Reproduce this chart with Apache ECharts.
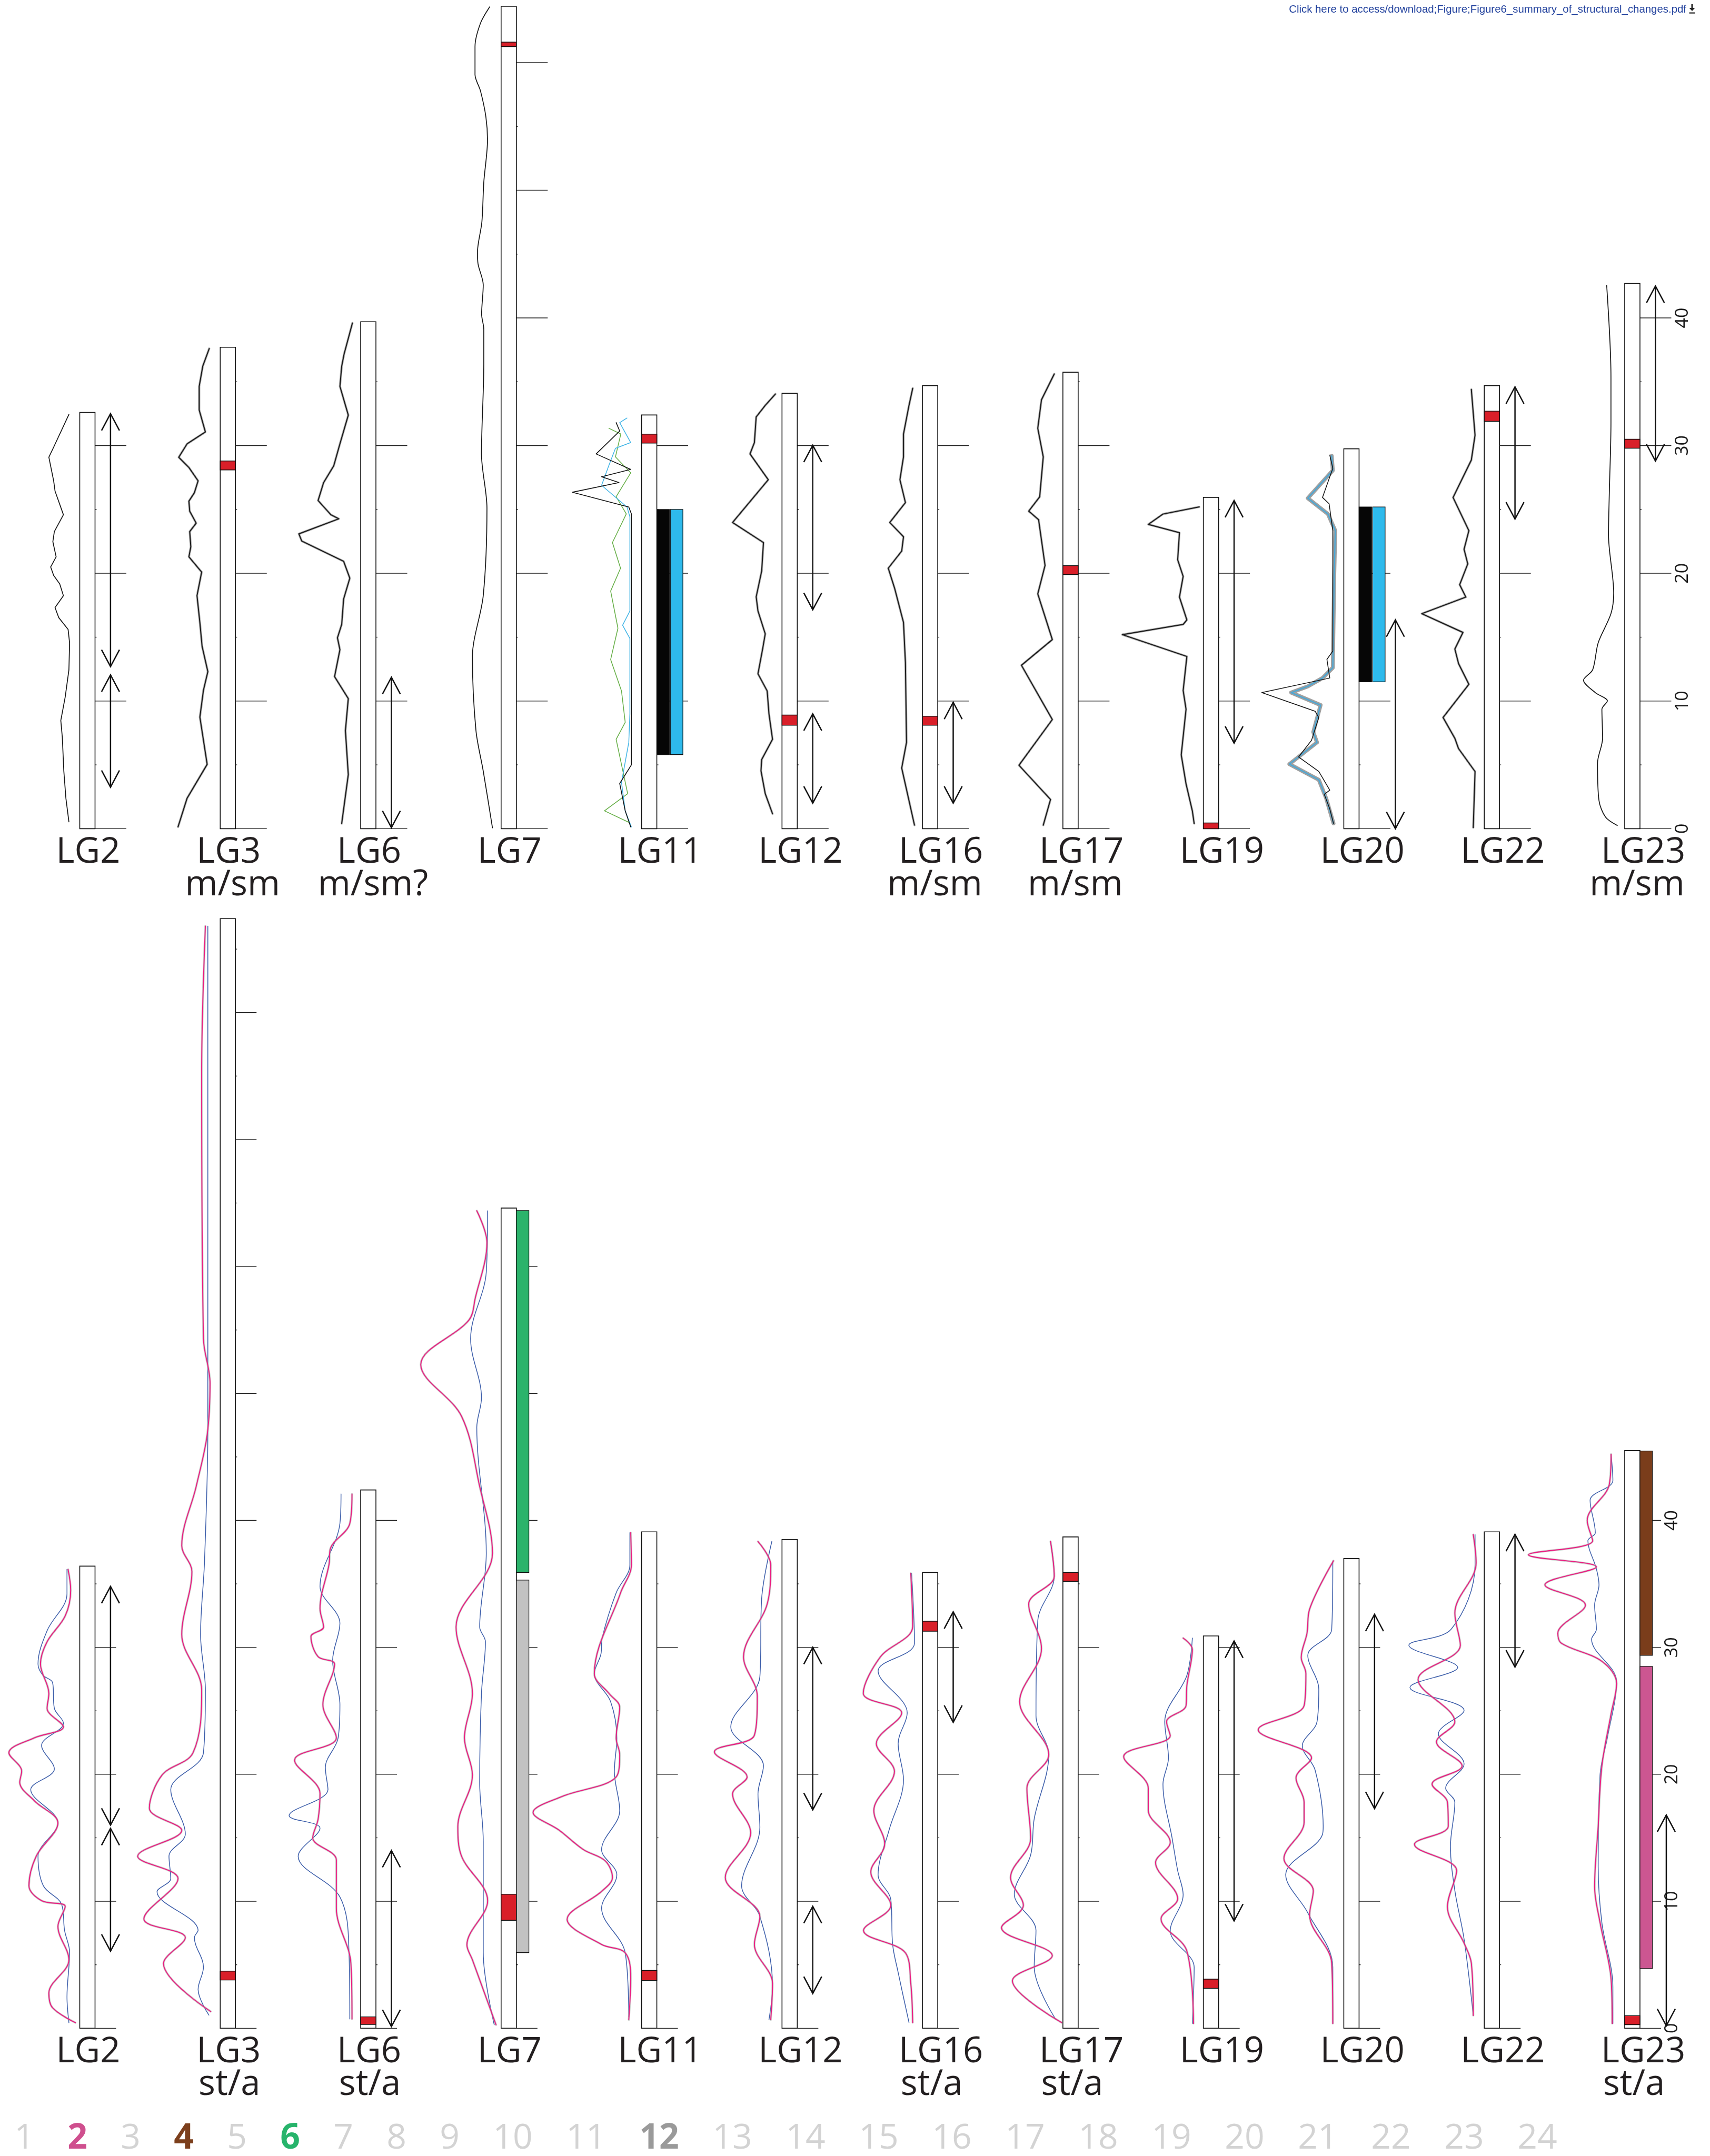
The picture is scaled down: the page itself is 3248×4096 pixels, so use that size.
<!DOCTYPE html>
<html>
<head>
<meta charset="utf-8">
<script src="https://cdn.jsdelivr.net/npm/echarts@6/dist/echarts.min.js"></script>
<style>
  html, body { margin: 0; padding: 0; background: #ffffff; }
  #chart { width: 3248px; height: 4096px; }
</style>
</head>
<body>
<div id="chart"></div>
<script>
// ---------------------------------------------------------------------------
// Linkage groups, lengths (Mb) and karyotype labels
// ---------------------------------------------------------------------------
const chromosomes = ['LG2', 'LG3', 'LG6', 'LG7', 'LG11', 'LG12', 'LG16', 'LG17', 'LG19', 'LG20', 'LG22', 'LG23'];
const topLengths    = [32.6, 37.7, 39.7, 64.4, 32.4, 34.1, 34.7, 35.75, 25.95, 29.75, 34.7, 42.7];
const bottomLengths = [36.4, 87.4, 42.4, 64.6, 39.1, 38.5, 35.9, 38.7, 30.9, 37.0, 39.1, 45.5];
const topSubLabels    = ['', 'm/sm', 'm/sm?', '', '', '', 'm/sm', 'm/sm', '', '', '', 'm/sm'];
const bottomSubLabels = ['', 'st/a', 'st/a', '', '', '', 'st/a', 'st/a', '', '', '', 'st/a'];

// scale printed beside the last linkage group
const scaleChromosome = 'LG23';
const scaleTickLabels = ['0', '10', '20', '30', '40'];

// centromere positions [from, to]
const topCentromeres = {
  LG3: [28.1, 28.8], LG7: [61.25, 61.6], LG11: [30.2, 30.9], LG12: [8.1, 8.9],
  LG16: [8.1, 8.8], LG17: [19.9, 20.6], LG19: [0, 0.45], LG22: [31.9, 32.7], LG23: [29.8, 30.5]
};
const bottomCentromeres = {
  LG3: [3.8, 4.5], LG6: [0.3, 0.9], LG7: [8.5, 10.55], LG11: [3.76, 4.55],
  LG16: [31.27, 32.06], LG17: [35.2, 35.9], LG19: [3.14, 3.87], LG23: [0.28, 0.99]
};

// rearranged regions [from, to]
const topArrows = {
  LG2: [[12.7, 32.5], [3.25, 12.05]], LG6: [[0.08, 11.86]], LG12: [[17.15, 30.03], [2.0, 9.0]],
  LG16: [[2.0, 9.9]], LG19: [[6.7, 25.7]], LG20: [[0, 16.35]], LG22: [[24.25, 34.6]], LG23: [[28.8, 42.5]]
};
const bottomArrows = {
  LG2: [[16.0, 34.8], [6.07, 15.74]], LG6: [[0.13, 14.0]], LG12: [[17.2, 30.0], [2.74, 9.6]],
  LG16: [[24.1, 32.8]], LG19: [[8.46, 30.5]], LG20: [[17.3, 32.6]], LG22: [[28.45, 38.9]], LG23: [[0.2, 16.8]]
};

// blocks [kind, from, to]
const topBlocks = {
  LG11: [['A', 5.8, 25.0], ['B', 5.8, 25.0]],
  LG20: [['A', 11.5, 25.2], ['B', 11.5, 25.2]]
};
const bottomBlocks = {
  LG7: [['6', 35.9, 64.4], ['12', 5.96, 35.3]],
  LG23: [['4', 29.37, 45.47], ['2', 4.7, 28.5]]
};

// homologous chromosome numbers
const legendNumbers = [1, 2, 3, 4, 5, 6, 7, 8, 9, 10, 11, 12, 13, 14, 15, 16, 17, 18, 19, 20, 21, 22, 23, 24];
const legendHighlighted = [2, 4, 6, 12];

// ---------------------------------------------------------------------------
// Profiles along each linkage group: [value, position (Mb)]
// ---------------------------------------------------------------------------
const topLG2 = [[0.79,32.44],[1.90,29.88],[2.25,29.09],[1.90,27.24],[1.80,26.44],[1.19,24.59],[1.85,23.27],[1.96,22.48],[1.72,21.29],[2.12,20.50],[1.90,19.83],[1.46,19.17],[1.19,18.25],[1.80,17.32],[1.53,16.53],[0.85,15.61],[0.74,14.55],[0.79,12.44],[1.06,10.32],[1.38,8.47],[1.27,7.15],[1.16,4.51],[1.01,2.39],[0.79,0.54]];
const topLG3 = [[0.8,37.6],[1.27,36.22],[1.53,34.64],[1.53,32.79],[1.08,31.07],[2.41,30.14],[3.02,29.09],[2.28,28.29],[1.61,27.24],[1.88,26.31],[2.28,25.65],[2.22,24.86],[1.75,23.93],[2.22,23.27],[2.14,22.08],[2.28,21.29],[1.35,20.10],[1.69,18.25],[1.48,16.14],[1.32,14.29],[0.90,12.30],[1.22,10.85],[1.48,8.74],[0.95,5.04],[2.41,2.39],[3.07,0.15]];
const topLG6 = [[0.6,39.6],[1.2,37.2],[1.38,36.22],[1.51,34.64],[0.90,32.39],[1.51,30.14],[1.96,28.42],[2.70,27.10],[3.10,25.70],[2.17,24.59],[1.59,24.27],[4.50,23.09],[4.29,22.53],[1.24,20.94],[0.79,19.62],[1.24,17.99],[1.38,16.00],[1.69,14.95],[1.51,14.02],[1.90,11.91],[0.90,10.19],[1.11,7.68],[0.90,4.24],[1.38,0.41]];
const topLG7 = [[0.83,64.36],[1.50,63.08],[1.90,61.25],[1.90,59.05],[1.50,57.77],[1.11,55.76],[0.99,53.93],[1.26,50.63],[1.40,47.52],[1.72,45.14],[1.68,44.23],[1.30,42.58],[1.42,40.30],[1.26,39.11],[1.26,36.37],[1.43,29.35],[1.03,25.12],[1.30,18.25],[2.09,13.49],[1.83,7.68],[1.30,4.51],[0.63,0.07]];
const topLG11Black = [[1.85,31.8],[1.59,31.14],[3.31,29.35],[0.79,28.14],[2.91,27.56],[1.64,27.11],[5.03,26.35],[0.93,25.19],[0.74,24.65],[0.74,20.18],[0.74,9.0],[0.74,5.0],[1.59,3.54],[1.19,1.4],[0.79,0.14]];
const topLG11Blue = [[1.06,32.16],[1.59,31.8],[0.79,30.24],[1.90,29.79],[2.38,28.45],[2.91,26.89],[1.06,25.19],[0.85,24.43],[0.85,17.05],[1.38,15.93],[0.85,14.9],[0.85,9.0],[0.93,6.76],[1.46,3.63],[1.19,1.4],[0.74,0.14]];
const topLG11Green = [[2.38,31.36],[1.51,30.91],[1.90,29.12],[0.79,27.87],[1.85,26.0],[1.11,24.65],[2.12,22.41],[1.53,20.40],[2.25,18.61],[1.72,15.70],[2.25,13.25],[1.46,10.79],[1.19,8.33],[1.85,7.0],[1.01,2.74],[2.70,1.40],[0.93,0.50]];
const topLG12 = [[0.48,34.04],[1.22,33.15],[1.88,32.25],[2.01,30.24],[2.33,29.35],[1.0,27.33],[3.6,23.98],[1.35,22.41],[1.48,20.18],[1.88,18.16],[1.75,17.05],[1.22,15.26],[1.40,14.14],[1.75,12.13],[1.08,10.79],[0.95,9.0],[0.69,7.0],[1.48,5.42],[1.53,4.53],[1.22,2.74],[0.69,1.17]];
const topLG16 = [[0.71,34.49],[0.98,33.15],[1.38,30.91],[1.38,29.12],[1.64,27.33],[1.24,25.54],[2.38,23.98],[1.38,22.86],[1.51,21.74],[2.49,20.40],[2.03,18.84],[1.38,16.15],[1.24,13.02],[1.16,6.76],[1.51,4.75],[0.58,0.28]];
const topLG17 = [[0.63,35.61],[1.56,33.59],[1.83,31.36],[1.43,29.12],[1.69,25.99],[2.49,24.87],[1.77,24.20],[1.30,20.62],[1.83,18.39],[0.77,14.81],[3.02,12.80],[0.77,8.55],[3.20,4.97],[0.90,2.29],[1.43,0.28]];
const topLG19 = [[0.3,25.2],[2.94,24.64],[4.01,23.83],[1.74,23.18],[1.87,21.06],[1.47,19.76],[1.74,18.14],[1.20,16.35],[1.47,16.0],[5.9,15.2],[1.20,13.49],[1.47,10.82],[1.26,9.36],[1.61,5.78],[1.26,3.51],[0.80,1.39],[0.67,0.41]];
const topLG20Black = [[1.02,29.26],[0.80,28.22],[1.55,25.94],[1.07,25.45],[0.80,23.34],[0.80,13.91],[1.23,13.26],[1.02,11.80],[5.97,10.66],[2.09,9.20],[1.82,8.71],[2.35,6.92],[3.29,5.62],[1.82,4.48],[1.02,3.02],[1.42,2.69],[1.02,1.55],[0.75,0.42]];
const topLG20Blue = [[0.88,29.19],[0.80,28.06],[2.62,25.88],[1.15,24.64],[0.62,23.34],[0.70,19.77],[0.80,12.61],[1.55,11.80],[2.62,11.15],[3.83,10.66],[1.69,9.68],[2.22,7.57],[1.95,6.76],[3.96,5.06],[1.82,3.83],[1.28,2.37],[0.75,0.42]];
const topLG22 = [[0.94,34.4],[0.67,30.82],[0.94,28.87],[2.27,25.94],[1.12,23.34],[1.47,21.88],[1.20,20.74],[1.79,19.11],[1.34,18.14],[4.55,16.84],[1.55,15.37],[2.14,14.07],[1.87,12.93],[1.12,11.31],[3.0,8.71],[2.14,7.08],[1.87,6.27],[0.67,4.48],[0.80,0.09]];
const topLG23 = [[1.31,42.53],[1.0,35.37],[1.0,31.8],[1.12,26.27],[1.18,23.02],[0.80,18.46],[1.0,16.84],[1.93,14.56],[2.33,12.45],[3.0,11.63],[2.14,10.66],[1.26,10.01],[1.66,9.36],[1.61,7.08],[1.98,5.13],[1.87,2.20],[1.39,0.90],[0.54,0.25]];

const bottomLG2Pink = [[0.85,36.14],[0.66,34.51],[1.06,32.48],[2.38,30.44],[2.86,28.69],[2.25,26.36],[2.38,25.20],[1.19,23.74],[3.31,22.87],[5.16,21.70],[4.23,20.25],[4.37,19.37],[3.31,17.92],[1.59,16.17],[3.17,13.55],[3.70,11.22],[2.78,10.05],[1.06,9.59],[1.59,8.02],[0.79,5.39],[2.25,2.77],[1.98,1.61],[0.32,0.44]];
const bottomLG2Blue = [[0.93,36.14],[0.93,34.22],[2.38,31.31],[3.04,28.69],[2.70,27.82],[1.98,27.23],[1.85,25.20],[1.19,24.03],[2.78,22.28],[1.85,20.42],[3.57,18.79],[1.59,16.17],[3.04,13.55],[2.65,11.22],[1.32,9.76],[1.11,7.73],[0.74,5.98],[0.93,2.48],[0.79,0.44]];
const bottomLG3Pink = [[1.08,86.81],[1.35,75.28],[1.22,54.31],[0.74,50.82],[0.95,46.74],[1.75,42.67],[2.80,38.01],[2.06,35.97],[2.80,31.02],[1.35,26.65],[1.98,21.70],[4.23,19.95],[5.16,17.33],[2.80,15.58],[6.01,13.55],[3.07,11.80],[5.56,8.60],[2.54,7.14],[4.13,5.10],[0.69,1.32]];
const bottomLG3Blue = [[0.90,86.81],[0.90,65.96],[0.90,47.33],[1.14,36.84],[1.43,31.02],[1.08,26.65],[1.22,21.70],[3.60,18.79],[2.54,15.29],[3.73,13.55],[3.60,11.80],[4.60,10.75],[1.61,7.72],[1.88,7.14],[1.22,4.81],[1.61,3.06],[0.82,1.03]];
const bottomLG6Pink = [[0.63,42.08],[0.79,39.76],[2.22,37.72],[2.30,36.55],[2.96,33.06],[2.70,31.60],[3.62,30.85],[3.10,29.27],[1.90,28.69],[2.75,25.49],[1.77,22.87],[4.81,21.12],[2.96,18.50],[3.10,16.46],[3.49,15.0],[1.77,13.25],[1.77,9.47],[0.71,5.10],[0.63,0.73]];
const bottomLG6Blue = [[1.43,42.08],[1.51,39.76],[2.96,34.81],[1.51,31.89],[2.04,28.98],[1.51,25.49],[1.64,22.87],[2.57,20.54],[2.38,18.79],[5.21,16.75],[2.96,15.76],[4.55,13.55],[1.51,10.34],[0.85,5.97],[0.79,0.73]];
const bottomLG7Pink = [[1.77,64.39],[1.03,61.89],[1.88,57.52],[2.35,55.77],[5.85,52.27],[2.88,48.20],[1.56,42.67],[0.63,37.42],[3.28,31.60],[2.09,26.36],[2.67,22.87],[2.09,19.95],[3.15,15.88],[2.88,13.55],[0.98,10.05],[2.49,6.56],[2.09,5.39],[0.37,0.27]];
const bottomLG7Blue = [[0.98,64.39],[1.08,59.56],[2.22,54.31],[1.43,49.66],[1.77,47.33],[1.08,37.42],[1.56,31.60],[1.14,30.44],[1.43,26.36],[1.56,19.37],[1.30,14.71],[1.30,9.47],[1.30,5.97],[0.50,0.27]];
const bottomLG11Pink = [[0.79,39.04],[0.74,36.49],[1.53,34.29],[3.44,27.92],[2.38,26.38],[1.59,25.28],[1.85,22.86],[1.59,21.55],[1.85,19.79],[5.8,18.25],[7.9,17.0],[6.0,15.6],[4.23,14.07],[2.65,13.19],[2.12,11.87],[2.91,10.78],[5.42,8.58],[2.91,6.60],[1.19,5.94],[0.79,3.96],[0.93,0.67]];
const bottomLG11Blue = [[0.85,39.04],[0.85,36.49],[1.85,34.29],[2.86,30.78],[2.96,29.46],[3.44,27.92],[2.25,25.72],[1.80,22.86],[1.98,20.23],[1.59,17.15],[2.91,14.07],[1.80,12.09],[2.91,9.46],[1.19,5.94],[0.93,0.89]];
const bottomLG12Pink = [[1.75,38.34],[0.82,36.49],[1.08,33.41],[2.80,29.24],[1.80,26.16],[2.01,23.08],[4.92,21.77],[2.54,19.79],[3.60,18.46],[2.28,15.39],[4.13,11.87],[1.61,8.80],[2.01,6.60],[0.69,3.52],[0.82,0.67]];
const bottomLG12Blue = [[0.74,38.34],[1.48,33.85],[1.61,27.70],[3.73,23.74],[1.35,20.67],[1.75,18.46],[1.61,15.83],[2.94,11.22],[1.61,8.80],[0.69,3.30],[0.95,0.67]];
const bottomLG16Pink = [[0.85,35.83],[0.71,31.66],[3.07,29.24],[4.31,26.38],[1.51,24.84],[3.36,22.42],[2.04,20.23],[3.54,17.15],[2.75,14.51],[3.76,12.31],[2.30,9.68],[4.29,7.70],[1.24,5.94],[0.85,3.52],[0.71,0.45]];
const bottomLG16Blue = [[0.79,35.83],[0.58,30.34],[3.23,28.14],[1.11,24.84],[1.77,22.42],[1.38,19.57],[2.43,15.61],[3.23,12.09],[2.30,10.12],[2.17,6.60],[1.77,4.40],[0.98,0.45]];
const bottomLG17Pink = [[0.90,38.34],[0.63,35.61],[2.49,33.41],[1.56,29.90],[3.15,25.72],[1.03,21.55],[2.62,18.91],[2.35,14.95],[3.81,11.87],[2.88,9.68],[4.47,7.92],[0.77,5.72],[3.68,3.74],[0.10,0.45]];
const bottomLG17Blue = [[0.90,38.34],[0.63,35.61],[1.83,32.09],[1.96,24.62],[1.03,21.55],[2.09,16.49],[2.35,13.63],[3.54,10.56],[1.96,7.70],[2.09,4.84],[0.50,0.67]];
const bottomLG19Pink = [[1.47,30.73],[0.80,29.85],[1.20,26.99],[1.26,25.41],[2.68,24.14],[2.41,23.03],[5.8,21.4],[4.01,18.91],[4.01,17.17],[2.41,14.64],[3.48,13.05],[1.87,10.20],[3.08,8.62],[1.20,6.08],[0.72,0.38]];
const bottomLG19Blue = [[0.80,30.73],[1.20,27.79],[2.81,24.14],[2.54,21.29],[2.94,19.23],[2.27,14.95],[1.87,12.42],[1.47,10.52],[2.41,7.67],[0.67,4.81],[0.80,0.38]];
const bottomLG20Pink = [[0.75,36.82],[2.49,33.01],[2.68,31.11],[3.10,29.21],[2.76,27.94],[2.89,25.41],[6.23,23.51],[2.35,21.29],[3.48,19.71],[2.89,17.81],[2.89,16.22],[4.36,13.37],[2.22,10.83],[2.49,8.93],[0.88,5.13],[0.80,0.38]];
const bottomLG20Blue = [[0.80,36.82],[0.88,31.43],[2.62,29.37],[1.82,26.68],[1.95,24.14],[3.02,22.24],[2.09,20.34],[1.50,15.91],[1.55,15.27],[4.23,12.10],[2.62,9.09],[0.80,4.81],[0.80,0.38]];
const bottomLG22Pink = [[0.80,38.88],[0.59,36.66],[2.14,32.70],[1.74,30.16],[4.82,27.47],[2.14,24.14],[3.48,22.56],[1.61,20.66],[3.80,19.23],[2.68,17.80],[2.62,15.91],[5.08,14.48],[2.01,12.42],[2.68,9.57],[1.47,6.71],[0.94,5.13],[0.80,1.01]];
const bottomLG22Blue = [[0.67,38.88],[0.67,36.50],[2.41,31.43],[5.49,30.16],[1.93,28.42],[5.41,26.84],[1.47,25.03],[3.34,23.19],[1.47,20.82],[2.81,18.91],[2.14,17.80],[2.46,14.32],[2.14,10.84],[1.47,7.03],[0.80,1.01]];
const bottomLG23Pink = [[0.99,45.21],[1.12,42.84],[2.73,39.99],[2.33,38.40],[7.01,37.29],[2.06,36.34],[5.81,34.92],[2.86,33.33],[4.87,31.11],[4.60,30.32],[1.66,28.90],[0.59,27.15],[0.99,24.77],[1.66,20.66],[1.93,15.91],[2.19,11.15],[1.79,8.30],[0.99,3.86],[0.91,0.38]];
const bottomLG23Blue = [[0.99,45.21],[0.86,43.15],[2.52,41.57],[2.14,39.03],[2.68,38.40],[2.06,36.18],[1.87,34.92],[2.19,33.33],[2.06,31.43],[2.41,30.64],[0.59,27.31],[1.26,22.88],[1.79,20.02],[1.93,12.73],[1.66,8.30],[0.86,3.23],[0.86,0.38]];

// which profiles belong to which linkage group, with their line style
const topProfiles = {
  LG2: [['thin', topLG2]], LG3: [['dark', topLG3]], LG6: [['dark', topLG6]], LG7: [['thinSmooth', topLG7]],
  LG11: [['lg11Green', topLG11Green], ['lg11Blue', topLG11Blue], ['lg11Black', topLG11Black]],
  LG12: [['dark', topLG12]], LG16: [['dark', topLG16]], LG17: [['dark', topLG17]], LG19: [['dark', topLG19]],
  LG20: [['lg20Blue', topLG20Blue], ['lg20Black', topLG20Black]],
  LG22: [['dark', topLG22]], LG23: [['thinSmooth', topLG23]]
};
const bottomProfiles = {
  LG2: [bottomLG2Blue, bottomLG2Pink], LG3: [bottomLG3Blue, bottomLG3Pink], LG6: [bottomLG6Blue, bottomLG6Pink],
  LG7: [bottomLG7Blue, bottomLG7Pink], LG11: [bottomLG11Blue, bottomLG11Pink], LG12: [bottomLG12Blue, bottomLG12Pink],
  LG16: [bottomLG16Blue, bottomLG16Pink], LG17: [bottomLG17Blue, bottomLG17Pink], LG19: [bottomLG19Blue, bottomLG19Pink],
  LG20: [bottomLG20Blue, bottomLG20Pink], LG22: [bottomLG22Blue, bottomLG22Pink], LG23: [bottomLG23Blue, bottomLG23Pink]
};

// ---------------------------------------------------------------------------
// Layout and styles
// ---------------------------------------------------------------------------
const COL0 = 151.5;          // left edge of the first chromosome bar
const COL_STEP = 266.77;     // distance between chromosome bars
const RECT_W = 29;
const CURVE_MAX = 9;
const CURVE_W = 234.8;       // width of the profile area left of each bar
const MINOR_LEN = 3;
const BLOCK_W = 23.8, BLOCK_GAP = 1.9;
const ARROW_HW = 17, ARROW_HL = 32, ARROW_DX = 29.4;
const FONT = '"Open Sans", "Noto Sans", sans-serif';
const LABEL_SIZE = 67;

const PANELS = {
  top: {
    base: 1574.4, unit: 24.26, yMax: 64.8, tickLen: 59.5, scaleDx: 81,
    lengths: topLengths, sub: topSubLabels, subDx: RECT_W / 2 + 9,
    centromeres: topCentromeres, arrows: topArrows, blocks: topBlocks,
    arrowShift: { LG20: 69 }
  },
  bottom: {
    base: 3853.3, unit: 24.12, yMax: 90, tickLen: 40, scaleDx: 61,
    lengths: bottomLengths, sub: bottomSubLabels, subDx: RECT_W / 2 + 3,
    centromeres: bottomCentromeres, arrows: bottomArrows, blocks: bottomBlocks,
    arrowShift: { LG23: 50 }
  }
};

const BLOCK_COLORS = { A: '#060606', B: '#2ebaec', '2': '#cc5691', '4': '#7a3d1b', '6': '#2bb36b', '12': '#c2c2c2' };
const LEGEND_COLORS = { '2': '#cf4f8e', '4': '#7c3f1c', '6': '#27b46b', '12': '#9a9a9a' };
const LEGEND_MUTED = '#d3d3d3';

const LINE_STYLES = {
  thin:       { smooth: 0,   layers: [{ color: '#151515', width: 1.7 }] },
  thinSmooth: { smooth: 0.3, layers: [{ color: '#151515', width: 1.7 }] },
  dark:       { smooth: 0,   layers: [{ color: 'rgba(120,120,120,0.6)', width: 4.2 }, { color: '#1a1a1a', width: 2 }] },
  lg11Black:  { smooth: 0,   layers: [{ color: '#111111', width: 1.6 }] },
  lg11Blue:   { smooth: 0,   layers: [{ color: '#3db3e6', width: 1.5 }] },
  lg11Green:  { smooth: 0,   layers: [{ color: '#63ad43', width: 1.5 }] },
  lg20Blue:   { smooth: 0,   layers: [{ color: 'rgba(120,120,120,0.7)', width: 7.5 }, { color: '#4ba8d6', width: 2.4 }] },
  lg20Black:  { smooth: 0,   layers: [{ color: '#111111', width: 1.5 }] },
  blue:       { smooth: 0.35, layers: [{ color: '#3a5ca9', width: 1.5 }] },
  pink:       { smooth: 0.35, layers: [{ color: 'rgba(165,165,165,0.55)', width: 4 }, { color: '#ec1a80', width: 1.9 }] }
};

// ---------------------------------------------------------------------------
// Renderers
// ---------------------------------------------------------------------------
function bodyRenderer(panelKey, idx) {
  const P = PANELS[panelKey];
  const name = chromosomes[idx];
  const sub = P.sub[idx];
  const withScale = name === scaleChromosome;
  return function (params, api) {
    const len = api.value(0);
    const base = api.coord([0, 0]);
    const top = api.coord([0, len]);
    const x0 = base[0];
    const x1 = x0 + RECT_W;
    const children = [];
    for (let v = 0; v <= len + 1e-9; v += 5) {
      const y = api.coord([0, v])[1];
      const major = v % 10 === 0;
      children.push({
        type: 'line',
        shape: { x1: x1, y1: y, x2: x1 + (major ? P.tickLen : MINOR_LEN), y2: y },
        style: { stroke: '#1a1a1a', lineWidth: 1.3 }
      });
    }
    if (withScale) {
      scaleTickLabels.forEach(function (lab) {
        const y = api.coord([0, Number(lab)])[1];
        children.push({
          type: 'text', x: x1 + P.scaleDx, y: y, rotation: Math.PI / 2,
          style: { text: lab, fill: '#1a1a1a', fontSize: 34, fontFamily: FONT, align: 'center', verticalAlign: 'middle' }
        });
      });
    }
    children.push({
      type: 'rect',
      shape: { x: x0, y: top[1], width: RECT_W, height: base[1] - top[1] },
      style: { fill: '#ffffff', stroke: '#111111', lineWidth: 1.6 }
    });
    children.push({
      type: 'text', x: x0 - 45, y: base[1] + 46,
      style: { text: name, fill: '#231f20', fontSize: LABEL_SIZE, fontFamily: FONT, align: 'left', verticalAlign: 'middle' }
    });
    if (sub) {
      children.push({
        type: 'text', x: x0 + P.subDx, y: base[1] + 108,
        style: { text: sub, fill: '#231f20', fontSize: LABEL_SIZE, fontFamily: FONT, align: 'center', verticalAlign: 'middle' }
      });
    }
    return { type: 'group', children: children };
  };
}

function centromereRenderer(params, api) {
  const a = api.coord([0, api.value(0)]);
  const b = api.coord([0, api.value(1)]);
  return {
    type: 'rect',
    shape: { x: a[0], y: b[1], width: RECT_W, height: Math.max(a[1] - b[1], 2) },
    style: { fill: '#d91f29', stroke: '#111111', lineWidth: 1.4 }
  };
}

function blockRenderer(list) {
  return function (params, api) {
    const item = list[params.dataIndex];
    let slot = 0;
    for (let k = 0; k < params.dataIndex; k++) {
      if (list[k][1] < item[2] && item[1] < list[k][2]) slot++;
    }
    const a = api.coord([0, api.value(0)]);
    const b = api.coord([0, api.value(1)]);
    return {
      type: 'rect',
      shape: { x: a[0] + RECT_W + slot * (BLOCK_W + BLOCK_GAP), y: b[1], width: BLOCK_W, height: a[1] - b[1] },
      style: { fill: BLOCK_COLORS[item[0]], stroke: '#111111', lineWidth: 1.2 }
    };
  };
}

function arrowRenderer(shift) {
  return function (params, api) {
    const a = api.coord([0, api.value(0)]);
    const b = api.coord([0, api.value(1)]);
    const x = a[0] + RECT_W + shift;
    const yLo = a[1], yHi = b[1];
    const st = { stroke: '#111111', lineWidth: 2.5, fill: 'none', lineJoin: 'miter' };
    return {
      type: 'group',
      children: [
        { type: 'line', shape: { x1: x, y1: yLo, x2: x, y2: yHi }, style: st },
        { type: 'polyline', shape: { points: [[x - ARROW_HW, yHi + ARROW_HL], [x, yHi], [x + ARROW_HW, yHi + ARROW_HL]] }, style: st },
        { type: 'polyline', shape: { points: [[x - ARROW_HW, yLo - ARROW_HL], [x, yLo], [x + ARROW_HW, yLo - ARROW_HL]] }, style: st }
      ]
    };
  };
}

// ---------------------------------------------------------------------------
// Option assembly
// ---------------------------------------------------------------------------
const option = {
  animation: false,
  backgroundColor: '#ffffff',
  grid: [], xAxis: [], yAxis: [], series: [], graphic: []
};

function addProfile(gi, styleKey, data) {
  const st = LINE_STYLES[styleKey];
  st.layers.forEach(function (layer) {
    option.series.push({
      type: 'line', xAxisIndex: gi, yAxisIndex: gi, data: data,
      symbol: 'none', smooth: st.smooth, clip: false, silent: true, z: 3,
      lineStyle: { color: layer.color, width: layer.width, join: 'round', cap: 'round' }
    });
  });
}

['top', 'bottom'].forEach(function (panelKey) {
  const P = PANELS[panelKey];
  chromosomes.forEach(function (name, i) {
    const gi = option.grid.length;
    const left = COL0 + COL_STEP * i;
    option.grid.push({
      left: left - CURVE_W, width: CURVE_W,
      top: P.base - P.yMax * P.unit, height: P.yMax * P.unit,
      show: false, containLabel: false, outerBoundsMode: 'none'
    });
    option.xAxis.push({ type: 'value', gridIndex: gi, min: 0, max: CURVE_MAX, inverse: true, show: false });
    option.yAxis.push({ type: 'value', gridIndex: gi, min: 0, max: P.yMax, show: false });

    // bar with tick marks and labels
    option.series.push({
      type: 'custom', xAxisIndex: gi, yAxisIndex: gi, z: 2, silent: true,
      data: [[P.lengths[i]]], renderItem: bodyRenderer(panelKey, i)
    });

    // profiles
    if (panelKey === 'top') {
      topProfiles[name].forEach(function (p) { addProfile(gi, p[0], p[1]); });
    } else {
      addProfile(gi, 'blue', bottomProfiles[name][0]);
      addProfile(gi, 'pink', bottomProfiles[name][1]);
    }

    // coloured blocks
    const blocks = P.blocks[name];
    if (blocks) {
      option.series.push({
        type: 'custom', xAxisIndex: gi, yAxisIndex: gi, z: 4, silent: true,
        data: blocks.map(function (b) { return [b[1], b[2]]; }), renderItem: blockRenderer(blocks)
      });
    }

    // centromere
    const cen = P.centromeres[name];
    if (cen) {
      option.series.push({
        type: 'custom', xAxisIndex: gi, yAxisIndex: gi, z: 5, silent: true,
        data: [cen], renderItem: centromereRenderer
      });
    }

    // arrows
    const arrows = P.arrows[name];
    if (arrows) {
      const shift = P.arrowShift[name] !== undefined ? P.arrowShift[name] : ARROW_DX;
      option.series.push({
        type: 'custom', xAxisIndex: gi, yAxisIndex: gi, z: 6, silent: true,
        data: arrows, renderItem: arrowRenderer(shift)
      });
    }
  });
});

// numbered homologues along the bottom edge
(function () {
  const DIGIT_W = 38, GAP = 63;
  let x = 46;
  legendNumbers.forEach(function (n, k) {
    if (k > 0) {
      const prevW = String(legendNumbers[k - 1]).length * DIGIT_W;
      const w = String(n).length * DIGIT_W;
      x += prevW / 2 + w / 2 + GAP;
    }
    const hi = legendHighlighted.indexOf(n) >= 0;
    option.graphic.push({
      type: 'text', x: x, y: 4063, silent: true,
      style: {
        text: String(n), fill: hi ? LEGEND_COLORS[String(n)] : LEGEND_MUTED,
        fontSize: 66, fontFamily: FONT, fontWeight: hi ? 'bold' : 'normal',
        align: 'center', verticalAlign: 'middle'
      }
    });
  });
})();

// download note in the top right corner
option.graphic.push({
  type: 'text', x: 3203, y: 18, silent: true,
  style: {
    text: 'Click here to access/download;Figure;Figure6_summary_of_structural_changes.pdf',
    fill: '#1f3f9c', fontSize: 20.4, fontFamily: '"Liberation Sans", Arial, sans-serif',
    align: 'right', verticalAlign: 'middle'
  }
});
option.graphic.push({
  type: 'group', silent: true,
  children: [
    { type: 'rect', shape: { x: 3212.5, y: 8, width: 3, height: 8 }, style: { fill: '#222222' } },
    { type: 'polygon', shape: { points: [[3208.5, 15], [3219.5, 15], [3214, 21]] }, style: { fill: '#222222' } },
    { type: 'rect', shape: { x: 3208.5, y: 23.5, width: 11, height: 2.2 }, style: { fill: '#222222' } }
  ]
});

const chart = echarts.init(document.getElementById('chart'), null, { renderer: 'canvas' });
chart.setOption(option);
</script>
</body>
</html>
